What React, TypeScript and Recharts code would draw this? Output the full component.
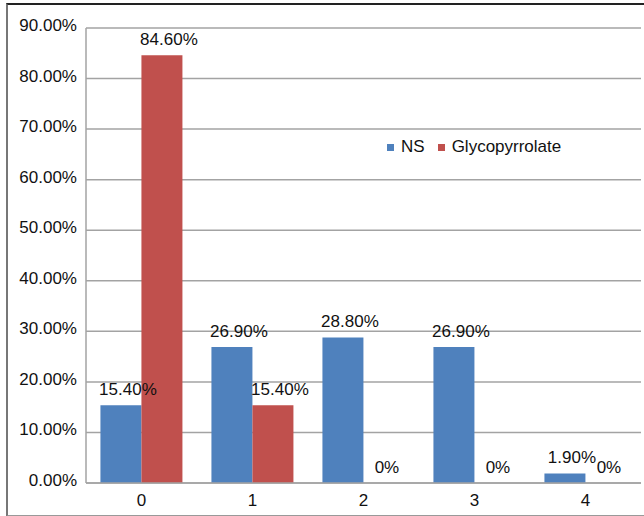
import React from 'react';
import { BarChart, Bar, XAxis, YAxis, CartesianGrid, Legend, LabelList } from 'recharts';

const categories = ['0', '1', '2', '3', '4'];
const nsValues = [15.4, 26.9, 28.8, 26.9, 1.9];
const glycoValues = [84.6, 15.4, 0, 0, 0];
const yTicks = [0, 10, 20, 30, 40, 50, 60, 70, 80, 90];

const COLORS = {
  ns: '#4f81bd',
  glyco: '#c0504d',
  grid: '#a3a3a3',
  text: '#111111'
};

const FONT = '"Liberation Sans", Arial, sans-serif';

const data = categories.map((name, i) => ({
  name,
  ns: nsValues[i],
  glyco: glycoValues[i]
}));

const pctLabel = (v: number) => (v === 0 ? '0%' : `${v.toFixed(2)}%`);

// value labels sit ~10px above the top of each bar, nudged a little right
const BarValueLabel = (props: any) => {
  const { x, y, width, height, value } = props;
  const top = Math.min(y, y + height);
  const dx = value === 0 ? 3 : 7;
  return (
    <text
      x={x + width / 2 + dx}
      y={top - 10}
      textAnchor="middle"
      fontSize={17}
      fontFamily={FONT}
      fill={COLORS.text}
    >
      {pctLabel(value)}
    </text>
  );
};

const YTick = (props: any) => {
  const { x, y, payload } = props;
  return (
    <text x={x} y={y} dy={3} textAnchor="end" fontSize={17} fontFamily={FONT} fill={COLORS.text}>
      {`${payload.value.toFixed(2)}%`}
    </text>
  );
};

const LegendContent = () => (
  <div style={{ display: 'flex', alignItems: 'center', fontFamily: FONT, fontSize: 17, color: COLORS.text }}>
    <span style={{ width: 7, height: 7, background: COLORS.ns, marginRight: 7 }} />
    <span style={{ marginRight: 13 }}>NS</span>
    <span style={{ width: 7, height: 7, background: COLORS.glyco, marginRight: 7 }} />
    <span>Glycopyrrolate</span>
  </div>
);

export default function App() {
  return (
    <div style={{ position: 'fixed', left: 0, top: 0, width: 644, height: 516, background: '#fff', overflow: 'hidden' }}>
      {/* outer frame */}
      <div
        style={{
          position: 'absolute',
          left: 6,
          top: 3,
          width: 660,
          height: 510,
          borderTop: '2px solid #222',
          borderLeft: '2px solid #777',
          borderBottom: '2px solid #999'
        }}
      />
      <BarChart
        width={644}
        height={516}
        data={data}
        margin={{ top: 28, right: 3, left: 6, bottom: 3 }}
        barCategoryGap="13%"
        barGap={0}
      >
        <CartesianGrid vertical={false} stroke={COLORS.grid} strokeWidth={1.5} />
        <XAxis
          dataKey="name"
          height={30}
          tickLine={false}
          tickSize={0}
          tickMargin={11}
          axisLine={{ stroke: COLORS.grid, strokeWidth: 1.5 }}
          tick={{ fontSize: 17, fontFamily: FONT, fill: COLORS.text }}
        />
        <YAxis
          width={80}
          domain={[0, 90]}
          ticks={yTicks}
          tickLine={false}
          tickSize={0}
          tickMargin={9}
          axisLine={{ stroke: COLORS.grid, strokeWidth: 1.5 }}
          tick={<YTick />}
        />
        <Legend
          content={<LegendContent />}
          layout="horizontal"
          verticalAlign="middle"
          align="center"
          wrapperStyle={{ left: 387, top: 137, width: 'auto' }}
        />
        <Bar dataKey="ns" name="NS" fill={COLORS.ns} isAnimationActive={false}>
          <LabelList dataKey="ns" content={<BarValueLabel />} />
        </Bar>
        {/* tiny minPointSize keeps the zero bars (and their 0% labels) in the layout */}
        <Bar
          dataKey="glyco"
          name="Glycopyrrolate"
          fill={COLORS.glyco}
          minPointSize={0.01}
          isAnimationActive={false}
        >
          <LabelList dataKey="glyco" content={<BarValueLabel />} />
        </Bar>
      </BarChart>
    </div>
  );
}
